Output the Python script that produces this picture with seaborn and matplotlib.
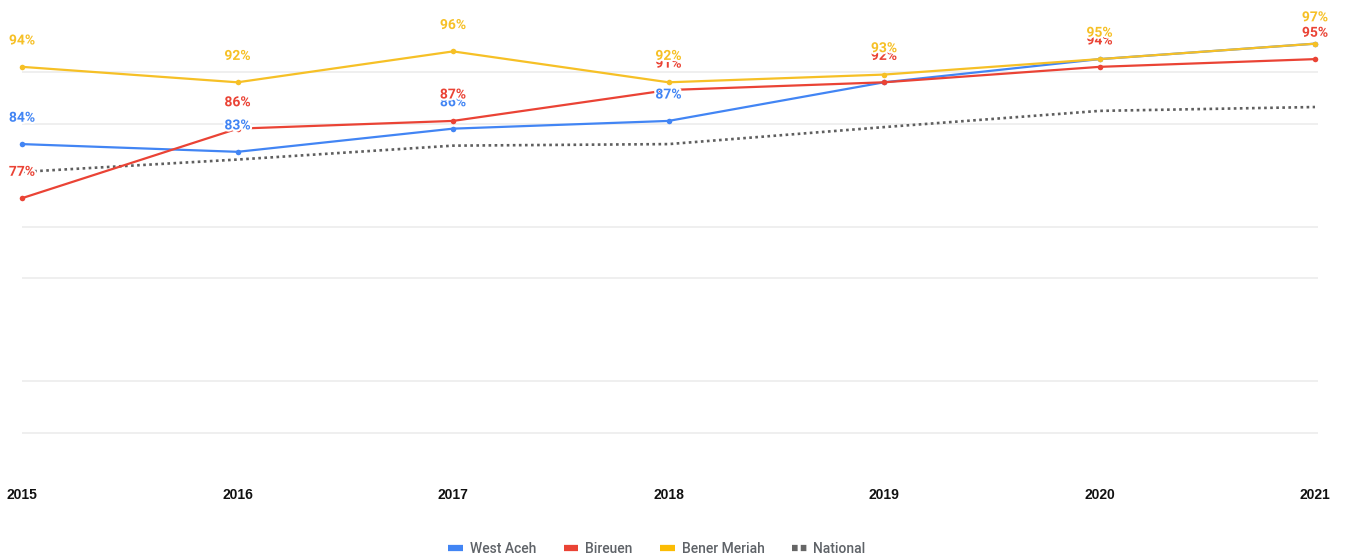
import matplotlib
matplotlib.use("Agg")
import matplotlib.pyplot as plt
import matplotlib.patheffects as pe
from matplotlib.lines import Line2D
import seaborn as sns
import pandas as pd

# ---- data -------------------------------------------------------------
years = [2015, 2016, 2017, 2018, 2019, 2020, 2021]
west_aceh = [84, 83, 86, 87, 92, 95, 97]
bireuen = [77, 86, 87, 91, 92, 94, 95]
bener_meriah = [94, 92, 96, 92, 93, 95, 97]
national = [80.4, 82.0, 83.8, 84.0, 86.2, 88.3, 88.8]

series_names = ["West Aceh", "Bireuen", "Bener Meriah", "National"]
series_values = [west_aceh, bireuen, bener_meriah, national]
colors = {"West Aceh": "#4285F4", "Bireuen": "#EA4335",
          "Bener Meriah": "#F6C026", "National": "#5f5f5f"}
labelled = ["West Aceh", "Bireuen", "Bener Meriah"]

df = pd.DataFrame({
    "year": years * len(series_names),
    "value": [v for vals in series_values for v in vals],
    "series": [n for n in series_names for _ in years],
})

# ---- figure -----------------------------------------------------------
sns.set_theme(style="white")
plt.rcParams["font.family"] = ["Roboto", "DejaVu Sans"]

W, H = 1345, 558
fig = plt.figure(figsize=(W / 100, H / 100), dpi=100)
ax = fig.add_axes([22 / W, 74 / H, (1318 - 22) / W, 463.5 / H])

ymin, ymax = 40, 100
ax.set_ylim(ymin, ymax)
ax.set_xlim(2015, 2021 + 3 / 215.5)

# light horizontal gridlines
step = (ymax - ymin) / 9
for k in [1, 2, 4, 5, 7, 8]:
    ax.axhline(ymin + k * step, color="#ebebeb", lw=1.1, zorder=0)

# national reference line (dotted)
sub = df[df.series == "National"]
sns.lineplot(data=sub, x="year", y="value", ax=ax, color=colors["National"],
             lw=1.9, zorder=2, legend=False)
ax.lines[-1].set_dashes((1, 1.3))

# district lines
for name in labelled:
    sub = df[df.series == name]
    sns.lineplot(data=sub, x="year", y="value", ax=ax, color=colors[name],
                 lw=1.6, marker="o", markersize=4, markeredgewidth=0,
                 zorder=3, legend=False, clip_on=False)

# value annotations, drawn in series order so later ones sit on top
z = 5
for name in labelled:
    sub = df[df.series == name]
    for x, v in zip(sub.year, sub.value):
        ax.annotate(f"{v:.0f}%", (x, v), xytext=(0, 19),
                    textcoords="offset points", ha="center", va="center",
                    fontsize=10, fontweight="bold", color=colors[name],
                    zorder=z, annotation_clip=False,
                    path_effects=[pe.withStroke(linewidth=3, foreground="white")])
        z += 0.01

# axes cosmetics
for s in ax.spines.values():
    s.set_visible(False)
ax.set_yticks([])
ax.set_xticks(years)
ax.set_xticklabels([str(y) for y in years], fontsize=10, fontweight="bold",
                   color="#111111", family=["Liberation Sans", "DejaVu Sans"])
ax.tick_params(axis="x", length=0, pad=3)
ax.set_xlabel("")
ax.set_ylabel("")

# legend along the bottom
handles = [
    Line2D([0], [0], color=colors["West Aceh"], lw=4.5, solid_capstyle="butt"),
    Line2D([0], [0], color=colors["Bireuen"], lw=4.5, solid_capstyle="butt"),
    Line2D([0], [0], color="#FBBC04", lw=4.5, solid_capstyle="butt"),
    Line2D([0], [0], color="#666666", lw=4.5, dashes=(0.9, 0.5),
           dash_capstyle="butt"),
]
leg = fig.legend(handles, series_names, loc="center",
                 bbox_to_anchor=(657 / W, 1 - 549 / H), ncol=4, frameon=False,
                 handlelength=1.035, handletextpad=0.5, columnspacing=2.0,
                 prop={"family": ["Roboto", "DejaVu Sans"], "size": 10,
                       "weight": "medium"})
for t in leg.get_texts():
    t.set_color("#5f6368")

fig.savefig("out.png", dpi=100, facecolor="white")
